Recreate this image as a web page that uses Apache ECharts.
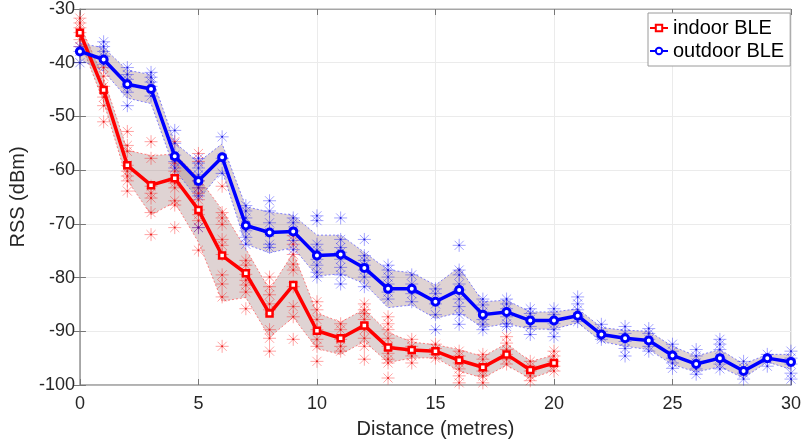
<!DOCTYPE html>
<html>
<head>
<meta charset="utf-8">
<script src="https://cdn.jsdelivr.net/npm/echarts@6/dist/echarts.min.js"></script>
<style>html,body{margin:0;padding:0;background:#fff;}#c{width:804px;height:444px;}</style>
</head>
<body>
<div id="c"></div>
<script>
// ---------- data ----------
const indoorX = [0,1,2,3,4,5,6,7,8,9,10,11,12,13,14,15,16,17,18,19,20];
const indoorMean = [-34.4,-45.1,-59.1,-62.8,-61.5,-67.4,-75.9,-79.2,-86.7,-81.4,-89.9,-91.3,-88.9,-93.0,-93.5,-93.7,-95.4,-96.7,-94.3,-97.2,-95.9];
const indoorStd = [1.5,2.2,2.8,5.5,4.5,6,8.5,4.5,4.4,6,3.3,3,3,2.8,1.5,1.2,2,2,2,1.6,1.4];
const indoorSamples = [
  [-31.7,-32.6,-33.5,-34.4,-35.7,-37.0],
  [-40.9,-42.5,-44.4,-46.4,-48.0,-51.0],
  [-52.8,-55.4,-56.5,-59.1,-60.2,-61.1,-62.0,-63.9],
  [-54.7,-57.8,-63.0,-64.3,-65.2,-67.9,-72.0],
  [-54.7,-58.7,-60.2,-61.5,-62.4,-63.3,-65.7,-66.5,-70.7],
  [-56.9,-58.4,-62.0,-63.3,-64.3,-65.5,-67.4,-68.3,-69.4,-70.7,-74.9],
  [-63.0,-67.9,-68.9,-70.1,-72.9,-74.0,-75.7,-79.5,-81.2,-83.6,-92.8],
  [-76.8,-77.7,-79.4,-80.5,-81.4,-82.7,-85.8],
  [-79.9,-81.7,-83.2,-84.9,-86.0,-89.7,-91.3,-93.7],
  [-72.2,-73.8,-75.7,-77.5,-78.6,-81.7,-85.4,-87.3,-91.5],
  [-84.5,-86.0,-87.8,-89.7,-91.5,-92.8,-95.6],
  [-88.6,-89.7,-91.5,-92.8,-93.7],
  [-84.9,-86.0,-86.7,-87.8,-89.7,-91.3,-92.8,-95.2],
  [-87.3,-88.6,-89.7,-91.3,-92.8,-94.1,-95.2,-95.9,-98.7],
  [-91.5,-92.8,-93.7,-94.6,-95.9],
  [-92.4,-93.2,-94.3,-95.0],
  [-93.7,-94.6,-95.9,-97.0,-98.3,-99.6],
  [-94.3,-95.2,-96.5,-97.4,-98.3,-99.6],
  [-91.0,-92.2,-93.4,-94.3,-95.2,-96.1],
  [-95.6,-96.5,-97.4,-98.3,-99.2],
  [-93.7,-94.6,-95.6,-96.5,-97.4]
];
const outdoorX = [0,1,2,3,4,5,6,7,8,9,10,11,12,13,14,15,16,17,18,19,20,21,22,23,24,25,26,27,28,29,30];
const outdoorMean = [-37.9,-39.4,-44.0,-44.9,-57.4,-62.0,-57.6,-70.3,-71.6,-71.4,-75.9,-75.7,-78.2,-82.1,-82.1,-84.5,-82.3,-86.9,-86.4,-88.0,-88.0,-87.1,-90.6,-91.3,-91.7,-94.5,-96.1,-95.0,-97.4,-95.0,-95.7];
const outdoorStd = [1.5,2.2,2.6,2.7,2.5,3.5,2.5,3.5,3.8,3,3.8,3.6,2.9,3.5,3,3.1,4.2,2.4,2.2,1.6,1.6,1.3,1.3,1.5,1.7,1.7,1.5,1.6,1.3,0.7,1.4];
const outdoorSamples = [
  [-37.0,-37.9,-40.0],
  [-36.1,-37.0,-37.9,-38.8,-40.3],
  [-40.9,-42.2,-43.1,-44.5,-45.5,-48.0],
  [-41.8,-42.7,-43.6,-44.4,-46.2],
  [-52.6,-55.0,-57.2,-58.4,-59.6],
  [-57.8,-58.7,-59.6,-60.9,-62.0,-63.3,-64.8,-70.7],
  [-53.8,-57.8,-60.6],
  [-66.6,-67.6,-68.9,-70.3,-71.3,-72.5,-73.8],
  [-65.7,-67.6,-69.8,-71.6,-73.8,-74.4],
  [-68.9,-69.8,-71.3,-73.1,-74.8],
  [-68.5,-69.4,-73.8,-74.9,-76.6,-77.7,-79.0,-79.9],
  [-68.9,-72.9,-74.4,-75.3,-76.6,-78.1,-79.5,-81.2],
  [-72.9,-75.9,-76.8,-77.7,-78.6,-79.9,-81.7],
  [-77.7,-78.6,-79.9,-81.2,-82.7,-84.0],
  [-79.5,-81.2,-83.0,-84.5],
  [-82.1,-83.0,-84.9,-86.9,-89.7],
  [-74.0,-78.6,-79.5,-81.2,-82.3,-84.0,-85.4,-86.9,-88.7],
  [-84.0,-85.1,-86.4,-87.8,-88.7,-89.7],
  [-84.0,-84.9,-85.8,-87.3,-88.6,-89.1],
  [-85.8,-86.7,-87.8,-89.1,-90.6],
  [-85.8,-86.9,-88.6,-89.7,-91.0],
  [-83.6,-84.9,-86.0,-87.3,-88.2],
  [-88.7,-90.0,-91.0,-91.5],
  [-89.1,-90.4,-91.9,-93.2,-94.6],
  [-89.5,-90.4,-91.5,-92.8,-93.7],
  [-92.4,-93.7,-95.0,-95.9,-96.9],
  [-93.4,-94.6,-95.9,-97.0,-98.0],
  [-91.5,-92.4,-93.4,-95.0,-96.1,-97.0],
  [-95.6,-96.9,-97.8,-98.9],
  [-94.3,-95.2,-96.5],
  [-93.7,-95.0,-96.1,-97.8,-98.9]
];
const xTicks = [0,5,10,15,20,25,30];
const yTicks = [-100,-90,-80,-70,-60,-50,-40,-30];
const seriesNames = ['indoor BLE','outdoor BLE'];

// ---------- helpers ----------
const FONT = '"Liberation Sans", Arial, sans-serif';
const ASTERISK = 'path://M0,5L10,5M5,0L5,10M1.5,1.5L8.5,8.5M8.5,1.5L1.5,8.5';

function samplePoints(xs, samples) {
  const out = [];
  xs.forEach((x, i) => samples[i].forEach(v => out.push([x, v])));
  return out;
}
function bandSeries(xs, mean, std, edge) {
  return {
    type: 'custom', silent: true, z: 1, clip: true,
    data: [[xs[0], mean[0]]],
    renderItem: function (params, api) {
      const up = xs.map((x, i) => api.coord([x, mean[i] + std[i]]));
      const lo = xs.map((x, i) => api.coord([x, mean[i] - std[i]]));
      return {
        type: 'group',
        children: [
          { type: 'polygon', shape: { points: up.concat(lo.slice().reverse()) },
            style: { fill: 'rgba(150,110,110,0.3)', stroke: null } },
          { type: 'polyline', shape: { points: up },
            style: { fill: null, stroke: edge, lineWidth: 1, lineDash: [2, 2] } },
          { type: 'polyline', shape: { points: lo },
            style: { fill: null, stroke: edge, lineWidth: 1, lineDash: [2, 2] } }
        ]
      };
    }
  };
}
function scatterSeries(xs, samples, color) {
  return {
    type: 'scatter', silent: true, z: 2,
    symbol: ASTERISK, symbolSize: 13,
    itemStyle: { color: 'none', borderColor: color, borderWidth: 1 },
    data: samplePoints(xs, samples)
  };
}
function dotSeries(xs, samples, color) {
  return {
    type: 'scatter', silent: true, z: 2,
    symbol: 'circle', symbolSize: 2,
    itemStyle: { color: color },
    data: samplePoints(xs, samples)
  };
}

const chart = echarts.init(document.getElementById('c'), null, { renderer: 'canvas' });
const axisGrey = '#a6a6a6';
chart.setOption({
  animation: false,
  backgroundColor: '#fff',
  grid: { left: 77, right: 13, top: 9, bottom: 55, show: true, borderColor: axisGrey, borderWidth: 1 },
  legend: {
    data: seriesNames, orient: 'vertical', left: 648, top: 13,
    padding: [5, 6, 5, 1], itemGap: 3, itemWidth: 18, itemHeight: 8,
    backgroundColor: '#fff', borderColor: '#9a9a9a', borderWidth: 1,
    textStyle: { fontSize: 20, fontFamily: FONT, color: '#000' }
  },
  xAxis: [{
    type: 'value', min: xTicks[0], max: xTicks[xTicks.length - 1], interval: 5,
    name: 'Distance (metres)', nameLocation: 'middle', nameGap: 34,
    nameTextStyle: { fontSize: 20, fontFamily: FONT, color: '#262626' },
    axisLine: { show: true, lineStyle: { color: axisGrey, width: 1.5 } },
    axisTick: { show: true, inside: true, length: 6, lineStyle: { color: '#777' } },
    axisLabel: { fontSize: 18, fontFamily: FONT, color: '#262626', margin: 10 },
    splitLine: { show: true, lineStyle: { color: '#ebebeb' } }
  }, {
    type: 'value', position: 'top', min: xTicks[0], max: xTicks[xTicks.length - 1], interval: 5,
    axisLine: { show: true, lineStyle: { color: axisGrey } },
    axisTick: { show: true, inside: true, length: 6, lineStyle: { color: '#777' } },
    axisLabel: { show: false }, splitLine: { show: false }
  }],
  yAxis: [{
    type: 'value', min: yTicks[0], max: yTicks[yTicks.length - 1], interval: 10,
    name: 'RSS (dBm)', nameLocation: 'middle', nameGap: 42, nameRotate: 90,
    nameTextStyle: { fontSize: 20, fontFamily: FONT, color: '#262626' },
    axisLine: { show: true, lineStyle: { color: axisGrey, width: 1.5 } },
    axisTick: { show: true, inside: true, length: 6, lineStyle: { color: '#777' } },
    axisLabel: { fontSize: 18, fontFamily: FONT, color: '#262626', margin: 5 },
    splitLine: { show: true, lineStyle: { color: '#ebebeb' } }
  }, {
    type: 'value', position: 'right', min: yTicks[0], max: yTicks[yTicks.length - 1], interval: 10,
    axisLine: { show: true, lineStyle: { color: axisGrey } },
    axisTick: { show: true, inside: true, length: 6, lineStyle: { color: '#777' } },
    axisLabel: { show: false }, splitLine: { show: false }
  }],
  series: [
    bandSeries(indoorX, indoorMean, indoorStd, 'rgba(255,80,80,0.7)'),
    bandSeries(outdoorX, outdoorMean, outdoorStd, 'rgba(80,80,255,0.7)'),
    scatterSeries(indoorX, indoorSamples, 'rgba(255,0,0,0.45)'),
    scatterSeries(outdoorX, outdoorSamples, 'rgba(0,0,255,0.45)'),
    dotSeries(indoorX, indoorSamples, 'rgba(220,0,0,0.8)'),
    dotSeries(outdoorX, outdoorSamples, 'rgba(0,0,200,0.8)'),
    {
      name: seriesNames[0], type: 'line', z: 5,
      data: indoorX.map((x, i) => [x, indoorMean[i]]),
      lineStyle: { color: '#ff0000', width: 3.5 },
      symbol: 'rect', symbolSize: 6,
      itemStyle: { color: '#fff', borderColor: '#ff0000', borderWidth: 2.5 }
    },
    {
      name: seriesNames[1], type: 'line', z: 5,
      data: outdoorX.map((x, i) => [x, outdoorMean[i]]),
      lineStyle: { color: '#0000ff', width: 3.5 },
      symbol: 'circle', symbolSize: 7,
      itemStyle: { color: '#fff', borderColor: '#0000ff', borderWidth: 3 }
    }
  ]
});
</script>
</body>
</html>
